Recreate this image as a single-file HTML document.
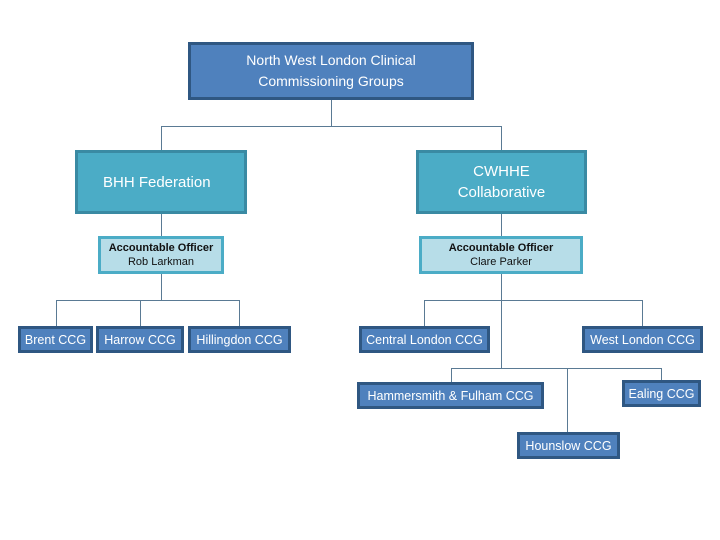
<!DOCTYPE html>
<html><head><style>
body{margin:0;width:720px;height:540px;background:#fff;position:relative;font-family:"Liberation Sans",sans-serif;overflow:hidden}
.b{position:absolute;box-sizing:border-box;display:flex;align-items:center;justify-content:center;text-align:center;color:#fff;font-size:12.5px}
.d{background:#4f81bd;border:3px solid #2f5782}
.t{background:#4bacc6;border:3px solid #3a8aa3;font-size:15px}
.l{background:#b7dde8;border:3px solid #4bacc6;color:#111;font-size:11px;line-height:14px}
.h{position:absolute;background:#5a7a94;height:1px}
.v{position:absolute;background:#5a7a94;width:1px}
</style></head><body>
<div class="v" style="left:331px;top:100px;height:26px"></div>
<div class="h" style="left:161px;top:126px;width:341px"></div>
<div class="v" style="left:161px;top:126px;height:24px"></div>
<div class="v" style="left:501px;top:126px;height:24px"></div>
<div class="v" style="left:161px;top:214px;height:86px"></div>
<div class="h" style="left:56px;top:300px;width:184px"></div>
<div class="v" style="left:56px;top:300px;height:26px"></div>
<div class="v" style="left:140px;top:300px;height:26px"></div>
<div class="v" style="left:239px;top:300px;height:26px"></div>
<div class="v" style="left:501px;top:214px;height:154px"></div>
<div class="h" style="left:424px;top:300px;width:219px"></div>
<div class="v" style="left:424px;top:300px;height:26px"></div>
<div class="v" style="left:642px;top:300px;height:26px"></div>
<div class="h" style="left:451px;top:368px;width:211px"></div>
<div class="v" style="left:451px;top:368px;height:14px"></div>
<div class="v" style="left:567px;top:368px;height:64px"></div>
<div class="v" style="left:661px;top:368px;height:12px"></div>
<div class="b d" style="left:188px;top:42px;width:286px;height:58px;font-size:14px;line-height:21px">North West London Clinical<br>Commissioning Groups</div>
<div class="b t" style="left:75px;top:150px;width:172px;height:64px;justify-content:flex-start;padding-left:25px">BHH Federation</div>
<div class="b t" style="left:416px;top:150px;width:171px;height:64px;line-height:21px">CWHHE<br>Collaborative</div>
<div class="b l" style="left:98px;top:236px;width:126px;height:38px"><div><b>Accountable Officer</b><br>Rob Larkman</div></div>
<div class="b l" style="left:419px;top:236px;width:164px;height:38px"><div><b>Accountable Officer</b><br>Clare Parker</div></div>
<div class="b d" style="left:18px;top:326px;width:75px;height:27px">Brent CCG</div>
<div class="b d" style="left:96px;top:326px;width:88px;height:27px">Harrow CCG</div>
<div class="b d" style="left:188px;top:326px;width:103px;height:27px">Hillingdon CCG</div>
<div class="b d" style="left:359px;top:326px;width:131px;height:27px">Central London CCG</div>
<div class="b d" style="left:582px;top:326px;width:121px;height:27px">West London CCG</div>
<div class="b d" style="left:357px;top:382px;width:187px;height:27px">Hammersmith &amp; Fulham CCG</div>
<div class="b d" style="left:622px;top:380px;width:79px;height:27px">Ealing CCG</div>
<div class="b d" style="left:517px;top:432px;width:103px;height:27px">Hounslow CCG</div>
</body></html>
